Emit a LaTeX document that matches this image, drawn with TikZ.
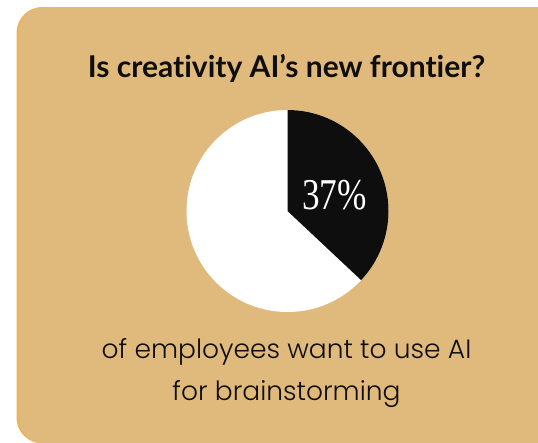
\documentclass[tikz,border=0pt]{standalone}
\usepackage{fontspec}
\setmainfont{Lato}[Ligatures = NoCommon]
\newfontfamily\bodyfont{Poppins Light}
\newfontfamily\numfont{Liberation Serif}
\definecolor{cardtan}{HTML}{E0BA7C}
\definecolor{cardedge}{HTML}{EBB256}
\definecolor{inkblack}{HTML}{0E0E0E}

\begin{document}
\begin{tikzpicture}[x = 1pt, y = -1pt,
    heading/.style = {anchor = base, text = inkblack, font = \bfseries\fontsize{30}{34}\selectfont},
    caption/.style = {anchor = base, text = inkblack, font = \bodyfont\fontsize{26.5}{30}\selectfont},
    share/.style = {anchor = base, text = white, font = \numfont\fontsize{44}{48}\selectfont}]
    \useasboundingbox (0, 0) rectangle (538, 442);
    % card with its thin left rim
    \fill[cardedge, rounded corners = 26pt] (16.5, 7) rectangle (600, 443.5);
    \fill[cardtan, rounded corners = 26pt] (18.5, 7) rectangle (600, 443.5);
    % pie
    \coordinate (pie) at (287.5, 211);
    \fill[white] (pie) circle[radius = 101];
    \fill[inkblack] (pie) -- ++(-90:101) arc[start angle = -90, end angle = 43.2, radius = 101] -- cycle;
    \node[share] (pct) at (334.5, 209) {\scalebox{0.8}[1]{37\%}};
    % texts
    \node[heading] (title) at (286.5, 77) {Is creativity AI’s new frontier?};
    \node[caption] (line1) at (286.5, 358) {of employees want to use AI};
    \node[caption] (line2) at (286.5, 400) {for brainstorming};
\end{tikzpicture}
\end{document}
